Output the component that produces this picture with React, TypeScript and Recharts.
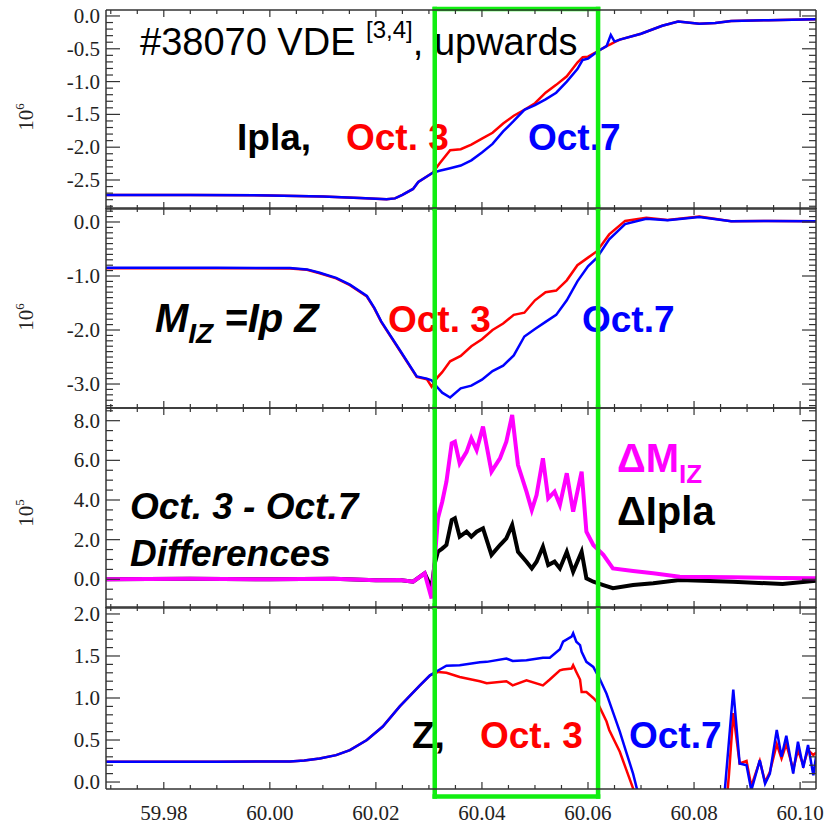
import React from "react";
import { LineChart, Line, XAxis, YAxis, ReferenceLine } from "recharts";

const W = 825;
const FRAME = "#333";
const SERIF = '"Liberation Serif", "DejaVu Serif", serif';
const SANS = '"Liberation Sans", Arial, sans-serif';
const RED = "#ff0000";
const BLUE = "#0000ff";
const MAGENTA = "#ff00ff";
const GREEN = "#11ee11";

// time axis (s)
const X_DOMAIN = [59.9691, 60.103];
const xMajor = [59.98, 60.0, 60.02, 60.04, 60.06, 60.08, 60.1];

// green window on the current quench
const greenWindow = [60.0311, 60.0619];

// --- Ipla (x10^6) ---
const tIp = [
  59.9691, 59.985, 60.0, 60.01, 60.017, 60.022, 60.0236, 60.025, 60.027, 60.028,
  60.0307, 60.032, 60.034, 60.036, 60.038, 60.04, 60.042, 60.044, 60.046, 60.048,
  60.05, 60.052, 60.054, 60.056, 60.058, 60.059, 60.06, 60.062, 60.0635, 60.0643,
  60.065, 60.066, 60.07, 60.074, 60.077, 60.081, 60.084, 60.087, 60.094, 60.103,
];
const ipOct3 = [
  -2.727, -2.727, -2.735, -2.75, -2.773, -2.792, -2.78, -2.727, -2.636, -2.53,
  -2.39, -2.25, -2.045, -2.03, -1.96, -1.87, -1.78, -1.64, -1.52, -1.43,
  -1.33, -1.17, -1.05, -0.92, -0.71, -0.63, -0.62, -0.53, -0.46, -0.43,
  -0.4, -0.36, -0.27, -0.15, -0.086, -0.117, -0.106, -0.076, -0.065, -0.05,
];
const ipOct7 = [
  -2.727, -2.727, -2.735, -2.75, -2.773, -2.792, -2.78, -2.727, -2.636, -2.53,
  -2.39, -2.36, -2.32, -2.28, -2.2, -2.08, -1.95, -1.76, -1.6, -1.43,
  -1.36, -1.27, -1.17, -1.0, -0.81, -0.67, -0.65, -0.53, -0.46, -0.29,
  -0.39, -0.36, -0.27, -0.15, -0.086, -0.117, -0.106, -0.076, -0.065, -0.05,
];

// --- M_IZ = Ip Z (x10^6) ---
const tMiz = [
  59.9691, 59.99, 60.0038, 60.007, 60.0094, 60.0125, 60.0151, 60.0183, 60.0197, 60.021,
  60.0245, 60.0277, 60.0296,
  60.0305, 60.0315, 60.0325, 60.034, 60.036, 60.038, 60.04, 60.042, 60.044, 60.046,
  60.048, 60.05, 60.052, 60.054, 60.056, 60.058, 60.06, 60.0617, 60.064, 60.067,
  60.071, 60.075, 60.081, 60.087, 60.094, 60.103,
];
const mizOct3 = [
  -0.855, -0.855, -0.86, -0.885, -0.95, -1.045, -1.17, -1.38, -1.6, -1.85,
  -2.38, -2.87, -2.91,
  -3.05, -2.89, -2.78, -2.58, -2.48, -2.3, -2.17, -2.0, -1.88, -1.72,
  -1.68, -1.45, -1.3, -1.27, -1.08, -0.8, -0.66, -0.54, -0.23, 0.02,
  0.08, 0.037, 0.1, 0.013, 0.02, 0.013,
];
const mizOct7 = [
  -0.848, -0.848, -0.853, -0.878, -0.94, -1.035, -1.16, -1.37, -1.59, -1.84,
  -2.37, -2.86, -2.9,
  -2.93, -3.05, -3.16, -3.25, -3.08, -3.03, -2.92, -2.76, -2.66, -2.47,
  -2.12, -1.98, -1.85, -1.72, -1.45, -1.1, -0.82, -0.66, -0.32, -0.04,
  0.06, 0.03, 0.09, 0.013, 0.02, 0.013,
];

// --- Oct.3 - Oct.7 differences (x10^5) ---
const tDiff = [
  59.9691, 59.985, 60.0, 60.012, 60.02, 60.0245, 60.027, 60.0292, 60.0305, 60.0311,
  60.0317, 60.0325, 60.0333, 60.0343, 60.0349, 60.0358, 60.0371, 60.038, 60.039, 60.0402,
  60.0418, 60.0434, 60.0446, 60.0457, 60.0468, 60.0484, 60.0494, 60.0503, 60.0515, 60.0525,
  60.0537, 60.0547, 60.056, 60.0572, 60.0588, 60.0597, 60.061, 60.0629, 60.0647, 60.0685,
  60.0723, 60.0773, 60.0873, 60.0967, 60.103,
];
const dMiz = [
  0, 0.03, 0, 0.03, -0.05, -0.04, -0.12, 0.3, -0.96, 1.0,
  3.08, 3.9, 4.92, 6.86, 6.94, 5.85, 6.43, 7.11, 6.52, 7.7,
  5.43, 6.1, 6.94, 8.29, 5.76, 4.42, 3.49, 4.25, 6.1, 4.08,
  4.42, 3.75, 5.35, 3.41, 5.43, 2.4, 1.73, 1.23, 0.55, 0.42,
  0.3, 0.13, 0.1, 0.07, 0.05,
];
const dIpla = [
  0, 0.03, 0, 0.03, -0.05, -0.04, -0.12, 0.3, -0.45, 0.8,
  1.39, 1.55, 1.73, 2.99, 3.08, 2.15, 2.4, 2.15, 2.4, 2.57,
  1.23, 1.73, 2.07, 2.74, 1.39, 0.89, 0.55, 0.89, 1.64, 0.72,
  0.89, 0.55, 1.39, 0.38, 1.39, 0.05, -0.12, -0.29, -0.45, -0.29,
  -0.2, -0.04, -0.12, -0.24, -0.07,
];

// --- Z ---
const tZ = [
  59.9691, 59.99, 60.0038, 60.0065, 60.0094, 60.0125, 60.0151, 60.0183, 60.0213, 60.0245,
  60.0283, 60.0302,
  60.0318, 60.0333, 60.0358, 60.0396, 60.0409, 60.0446, 60.0458, 60.0484, 60.0515, 60.0528,
  60.0547, 60.0553, 60.0569, 60.0572, 60.0578, 60.0585, 60.0588, 60.0597, 60.061, 60.0616,
  60.0619, 60.0635, 60.064, 60.066, 60.0672, 60.0685, 60.0692, 60.075, 60.085, 60.0858,
  60.0866, 60.0874, 60.0886, 60.0899, 60.0908, 60.0924, 60.0934, 60.0943, 60.0956, 60.0965,
  60.0974, 60.0987, 60.0996, 60.1006, 60.1015, 60.1025, 60.103,
];
const zOct3 = [
  0.242, 0.242, 0.245, 0.255, 0.28, 0.32, 0.38, 0.5, 0.66, 0.9,
  1.15, 1.27,
  1.31, 1.3, 1.25, 1.2, 1.175, 1.2, 1.15, 1.21, 1.15, 1.22,
  1.33, 1.34, 1.35, 1.39, 1.31, 1.22, 1.07, 1.07, 1.0, 0.96,
  0.93, 0.72, 0.62, 0.36, 0.15, -0.075, -0.2, -0.8, -0.8, -0.5,
  0.1, 0.82, 0.22, 0.25, -0.05, 0.25, 0.0, 0.12, 0.45, 0.28,
  0.45, 0.15, 0.38, 0.2, 0.38, 0.32, 0.35,
];
const zOct7 = [
  0.242, 0.242, 0.245, 0.255, 0.28, 0.32, 0.38, 0.5, 0.66, 0.9,
  1.15, 1.27,
  1.33, 1.385, 1.39, 1.425, 1.43, 1.47, 1.44, 1.45, 1.48, 1.48,
  1.58, 1.67, 1.73, 1.77, 1.67, 1.63, 1.55, 1.43, 1.37, 1.3,
  1.27, 1.05, 0.96, 0.6, 0.36, 0.1, -0.075, -0.8, -0.8, -0.1,
  0.5, 1.1, 0.22, 0.2, -0.1, 0.26, -0.02, 0.1, 0.62, 0.3,
  0.55, 0.1, 0.48, 0.17, 0.44, 0.08, 0.3,
];

// tick grid helper (axis decoration only)
function steps(from: number, to: number, step: number) {
  const out: number[] = [];
  const n = Math.round((to - from) / step);
  for (let i = 0; i <= n; i++) out.push(+(from + i * step).toFixed(4));
  return out;
}
const near = (v: number, list: number[]) => list.some((m) => Math.abs(m - v) < 1e-6);
const xTicks = steps(59.97, 60.1, 0.005);

const zip = (t: number[], a: number[], b: number[]) =>
  t.map((tt, i) => ({ t: tt, a: a[i], b: b[i] }));

function makeTick(side: string, majors: number[], withLabel: boolean, digits: number) {
  return (props: any) => {
    const { x, y, payload } = props;
    const v = payload.value;
    const big = near(v, majors);
    const horiz = side === "left" || side === "right";
    const len = horiz ? (big ? 14 : 7) : big ? 7 : 4;
    let line;
    if (side === "left") line = { x1: x, y1: y, x2: x + len, y2: y };
    else if (side === "right") line = { x1: x, y1: y, x2: x - len, y2: y };
    else if (side === "top") line = { x1: x, y1: y, x2: x, y2: y + len };
    else line = { x1: x, y1: y, x2: x, y2: y - len };
    return (
      <g>
        <line {...line} stroke={FRAME} strokeWidth={1.2} />
        {withLabel && big && side === "left" && (
          <text x={x - 6} y={y + 7} textAnchor="end" fontFamily={SERIF} fontSize={21} fill="#222">
            {v.toFixed(digits)}
          </text>
        )}
        {withLabel && big && side === "bottom" && (
          <text x={x} y={y + 31} textAnchor="middle" fontFamily={SERIF} fontSize={21} fill="#222">
            {v.toFixed(digits)}
          </text>
        )}
      </g>
    );
  };
}

const axisLine = { stroke: FRAME, strokeWidth: 1.5 };

type PanelProps = {
  top: number;
  plotH: number;
  bottomH: number;
  rows: { t: number; a: number; b: number }[];
  yDomain: number[];
  yMajor: number[];
  yTicks: number[];
  colorA: string;
  colorB: string;
  widthA: number;
  widthB: number;
  xLabels: boolean;
  greenTop: number;
  greenBottom: number;
  boxTop?: boolean;
  boxBottom?: boolean;
  children?: React.ReactNode;
};

function Panel(p: PanelProps) {
  return (
    <div style={{ position: "absolute", left: 0, top: p.top }}>
      <LineChart
        width={W}
        height={8 + p.plotH + p.bottomH}
        data={p.rows}
        margin={{ top: 6, right: 0, bottom: 0, left: 0 }}
      >
        <XAxis
          xAxisId="b"
          dataKey="t"
          type="number"
          domain={X_DOMAIN}
          allowDataOverflow
          ticks={xTicks}
          interval={0}
          tickSize={0}
          tickMargin={0}
          tickLine={false}
          tick={makeTick("bottom", xMajor, p.xLabels, 2)}
          height={p.bottomH}
          axisLine={axisLine}
        />
        <XAxis
          xAxisId="t"
          orientation="top"
          dataKey="t"
          type="number"
          domain={X_DOMAIN}
          allowDataOverflow
          ticks={xTicks}
          interval={0}
          tickSize={0}
          tickMargin={0}
          tickLine={false}
          tick={makeTick("top", xMajor, false, 2)}
          height={2}
          axisLine={axisLine}
        />
        <YAxis
          yAxisId="l"
          type="number"
          domain={p.yDomain}
          allowDataOverflow
          ticks={p.yTicks}
          interval={0}
          tickSize={0}
          tickMargin={0}
          tickLine={false}
          tick={makeTick("left", p.yMajor, true, 1)}
          width={106}
          axisLine={axisLine}
        />
        <YAxis
          yAxisId="r"
          orientation="right"
          type="number"
          domain={p.yDomain}
          allowDataOverflow
          ticks={p.yTicks}
          interval={0}
          tickSize={0}
          tickMargin={0}
          tickLine={false}
          tick={makeTick("right", p.yMajor, false, 1)}
          width={9}
          axisLine={axisLine}
        />
        <Line
          xAxisId="b"
          yAxisId="l"
          dataKey="a"
          type="linear"
          stroke={p.colorA}
          strokeWidth={p.widthA}
          dot={false}
          isAnimationActive={false}
        />
        <Line
          xAxisId="b"
          yAxisId="l"
          dataKey="b"
          type="linear"
          stroke={p.colorB}
          strokeWidth={p.widthB}
          dot={false}
          isAnimationActive={false}
        />
        {p.children}
        {greenWindow.map((gx) => (
          <ReferenceLine
            key={gx}
            xAxisId="b"
            yAxisId="l"
            segment={[
              { x: gx, y: p.greenTop },
              { x: gx, y: p.greenBottom },
            ]}
            ifOverflow="visible"
            stroke={GREEN}
            strokeWidth={4.5}
            strokeLinecap="square"
          />
        ))}
        {p.boxTop && (
          <ReferenceLine
            xAxisId="b"
            yAxisId="l"
            segment={[
              { x: greenWindow[0], y: p.greenTop },
              { x: greenWindow[1], y: p.greenTop },
            ]}
            ifOverflow="visible"
            stroke={GREEN}
            strokeWidth={4.5}
            strokeLinecap="square"
          />
        )}
        {p.boxBottom && (
          <ReferenceLine
            xAxisId="b"
            yAxisId="l"
            segment={[
              { x: greenWindow[0], y: p.greenBottom },
              { x: greenWindow[1], y: p.greenBottom },
            ]}
            ifOverflow="visible"
            stroke={GREEN}
            strokeWidth={4.5}
            strokeLinecap="square"
          />
        )}
      </LineChart>
    </div>
  );
}

function Unit({ cy, exp }: { cy: number; exp: string }) {
  return (
    <text
      transform={`rotate(-90 33 ${cy})`}
      x={33}
      y={cy}
      textAnchor="middle"
      fontFamily={SERIF}
      fontSize={21}
      fill="#222"
    >
      10
      <tspan fontSize={13} dy={-9}>
        {exp}
      </tspan>
    </text>
  );
}

const bold = { fontFamily: SANS, fontWeight: 700, fontSize: 37 } as const;

export default function App() {
  return (
    <div
      style={{
        position: "absolute",
        left: 0,
        top: 0,
        width: 825,
        height: 826,
        overflow: "hidden",
        background: "#fff",
      }}
    >
      <Panel
        top={2}
        plotH={199}
        bottomH={2}
        rows={zip(tIp, ipOct3, ipOct7)}
        yDomain={[-2.942, 0.091]}
        yMajor={[-2.5, -2, -1.5, -1, -0.5, 0]}
        yTicks={steps(-2.9, 0, 0.1)}
        colorA={RED}
        colorB={BLUE}
        widthA={2.5}
        widthB={2.5}
        xLabels={false}
        greenTop={0.107}
        greenBottom={-2.96}
        boxTop
      >
        <Unit cy={115} exp="6" />
        <text x={140} y={53} fontFamily={SANS} fontSize={38} fill="#000">
          #38070 VDE{" "}
          <tspan fontSize={24} dy={-17}>
            [3,4]
          </tspan>
          <tspan dy={17}>, upwards</tspan>
        </text>
        <text x={237} y={148} {...bold} fill="#000">Ipla,</text>
        <text x={346} y={148} {...bold} fill={RED}>Oct. 3</text>
        <text x={528} y={148} {...bold} fill={BLUE}>Oct.7</text>
      </Panel>

      <Panel
        top={200}
        plotH={200}
        bottomH={2}
        rows={zip(tMiz, mizOct3, mizOct7)}
        yDomain={[-3.444, 0.259]}
        yMajor={[-3, -2, -1, 0]}
        yTicks={steps(-3.4, 0.2, 0.1)}
        colorA={RED}
        colorB={BLUE}
        widthA={2.5}
        widthB={2.5}
        xLabels={false}
        greenTop={0.28}
        greenBottom={-3.47}
      >
        <Unit cy={117} exp="6" />
        <text x={155} y={132} fontFamily={SANS} fontWeight={700} fontStyle="italic" fontSize={40} fill="#000">
          M
          <tspan fontSize={28} dy={11}>IZ</tspan>
          <tspan fontSize={40} dy={-11}> =Ip Z</tspan>
        </text>
        <text x={388} y={132} {...bold} fill={RED}>Oct. 3</text>
        <text x={582} y={132} {...bold} fill={BLUE}>Oct.7</text>
      </Panel>

      <Panel
        top={400}
        plotH={200}
        bottomH={2}
        rows={zip(tDiff, dIpla, dMiz)}
        yDomain={[-1.447, 8.64]}
        yMajor={[0, 2, 4, 6, 8]}
        yTicks={steps(-1, 8.5, 0.5)}
        colorA="#000"
        colorB={MAGENTA}
        widthA={4}
        widthB={4}
        xLabels={false}
        greenTop={8.7}
        greenBottom={-1.5}
      >
        <Unit cy={113} exp="5" />
        <text x={130} y={119} {...bold} fontStyle="italic" fill="#000">Oct. 3 - Oct.7</text>
        <text x={130} y={166} {...bold} fontStyle="italic" fill="#000">Differences</text>
        <text x={617} y={72} fontFamily={SANS} fontWeight={700} fontSize={40} fill={MAGENTA}>
          ΔM
          <tspan fontSize={26} dy={11}>IZ</tspan>
        </text>
        <text x={617} y={125} fontFamily={SANS} fontWeight={700} fontSize={40} fill="#000">ΔIpla</text>
      </Panel>

      <Panel
        top={599}
        plotH={182}
        bottomH={37}
        rows={zip(tZ, zOct3, zOct7)}
        yDomain={[-0.083, 2.083]}
        yMajor={[0, 0.5, 1, 1.5, 2]}
        yTicks={steps(0, 2, 0.1)}
        colorA={RED}
        colorB={BLUE}
        widthA={2.5}
        widthB={2.5}
        xLabels
        greenTop={2.1}
        greenBottom={-0.173}
        boxBottom
      >
        <text x={412} y={149} {...bold} fill="#000">Z,</text>
        <text x={480} y={149} {...bold} fill={RED}>Oct. 3</text>
        <text x={629} y={149} {...bold} fill={BLUE}>Oct.7</text>
      </Panel>
    </div>
  );
}
